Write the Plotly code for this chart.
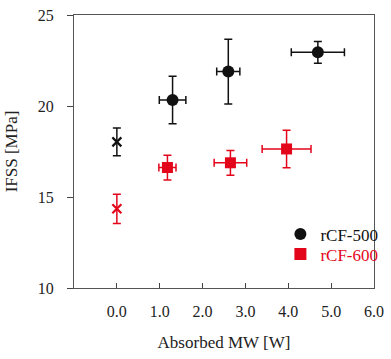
import plotly.graph_objects as go

# rCF-500 (microwave treated)
mw_500 = [1.30, 2.60, 4.69]
ifss_500 = [20.33, 21.89, 22.95]
ifss_500_err = [1.30, 1.78, 0.60]
mw_500_err = [0.31, 0.27, 0.62]
# rCF-500 untreated
mw_500_ref = [0.0]
ifss_500_ref = [18.03]
ifss_500_ref_err = [0.76]

# rCF-600 (microwave treated)
mw_600 = [1.18, 2.65, 3.96]
ifss_600 = [16.62, 16.88, 17.64]
ifss_600_err = [0.68, 0.68, 1.03]
mw_600_err = [0.20, 0.38, 0.57]
# rCF-600 untreated
mw_600_ref = [0.0]
ifss_600_ref = [14.35]
ifss_600_ref_err = [0.80]

x_ticks = [0, 1, 2, 3, 4, 5, 6]
x_tick_labels = ["0.0", "1.0", "2.0", "3.0", "4.0", "5.0", "6.0"]
y_ticks = [10, 15, 20, 25]

BLACK = "#111111"
RED = "#e3061b"
FONT = "Liberation Serif, DejaVu Serif, serif"

fig = go.Figure()

def err(vals, color):
    return dict(type="data", array=vals, visible=True, color=color, thickness=1.5, width=4)

fig.add_trace(go.Scatter(
    x=mw_500_ref, y=ifss_500_ref, mode="markers", showlegend=False,
    marker=dict(symbol="x-thin", size=9, line=dict(color=BLACK, width=2.2)),
    error_y=err(ifss_500_ref_err, BLACK)))
fig.add_trace(go.Scatter(
    x=mw_600_ref, y=ifss_600_ref, mode="markers", showlegend=False,
    marker=dict(symbol="x-thin", size=9, line=dict(color=RED, width=2.2)),
    error_y=err(ifss_600_ref_err, RED)))

fig.add_trace(go.Scatter(
    x=mw_500, y=ifss_500, mode="markers", name="rCF-500", legend="legend",
    marker=dict(symbol="circle", size=12, color=BLACK),
    error_y=err(ifss_500_err, BLACK), error_x=err(mw_500_err, BLACK)))
fig.add_trace(go.Scatter(
    x=mw_600, y=ifss_600, mode="markers", name="rCF-600", legend="legend2",
    marker=dict(symbol="square", size=11, color=RED),
    error_y=err(ifss_600_err, RED), error_x=err(mw_600_err, RED)))

leg_common = dict(xanchor="left", yanchor="top", bgcolor="rgba(0,0,0,0)",
                  borderwidth=0, itemsizing="constant", itemwidth=30)

fig.update_layout(
    width=391, height=359,
    margin=dict(l=74, r=7, t=13, b=71),
    paper_bgcolor="white", plot_bgcolor="white",
    font=dict(family=FONT, size=16, color="#222222"),
    legend=dict(x=0.688, y=0.262, font=dict(family=FONT, size=17, color="#111111"), **leg_common),
    legend2=dict(x=0.688, y=0.189, font=dict(family=FONT, size=17, color=RED), **leg_common),
    showlegend=True,
)
fig.update_xaxes(
    range=[-1, 6], tickvals=x_ticks, ticktext=x_tick_labels,
    ticks="inside", ticklen=5, tickcolor="#444444", tickwidth=1,
    ticklabelstandoff=9,
    showline=True, linecolor="#555555", linewidth=1.2, mirror=True,
    showgrid=False, zeroline=False,
    title=dict(text="Absorbed MW [W]", standoff=16, font=dict(size=17)),
)
fig.update_yaxes(
    range=[10, 25], tickvals=y_ticks,
    ticks="outside", ticklen=6, tickcolor="#444444", tickwidth=1,
    ticklabelstandoff=10,
    showline=True, linecolor="#555555", linewidth=1.2, mirror=True,
    showgrid=False, zeroline=False,
    title=dict(text="IFSS [MPa]", standoff=15, font=dict(size=17)),
)

fig.write_html("out.html")
